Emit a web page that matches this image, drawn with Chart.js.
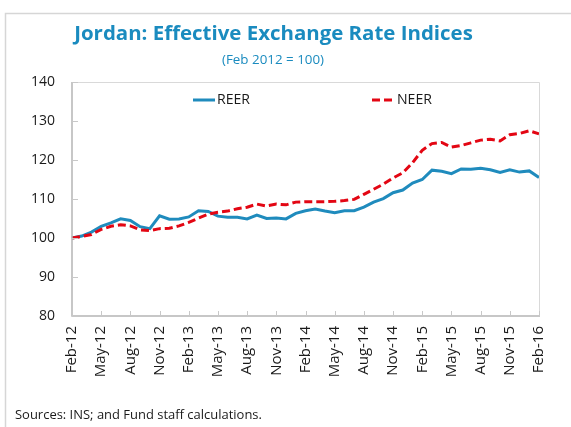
<!DOCTYPE html>
<html>
<head>
<meta charset="utf-8">
<script src="https://cdn.jsdelivr.net/npm/chart.js@4.4.1/dist/chart.umd.min.js"></script>
<style>
  html,body{margin:0;padding:0;background:#fff;}
  #wrap{position:absolute;left:0;top:0;width:571px;height:427px;}
</style>
</head>
<body>
<div id="wrap"><canvas id="c" width="571" height="427"></canvas></div>
<script>
const months = [
  "Feb-12","Mar-12","Apr-12","May-12","Jun-12","Jul-12","Aug-12","Sep-12","Oct-12","Nov-12","Dec-12","Jan-13",
  "Feb-13","Mar-13","Apr-13","May-13","Jun-13","Jul-13","Aug-13","Sep-13","Oct-13","Nov-13","Dec-13","Jan-14",
  "Feb-14","Mar-14","Apr-14","May-14","Jun-14","Jul-14","Aug-14","Sep-14","Oct-14","Nov-14","Dec-14","Jan-15",
  "Feb-15","Mar-15","Apr-15","May-15","Jun-15","Jul-15","Aug-15","Sep-15","Oct-15","Nov-15","Dec-15","Jan-16",
  "Feb-16"
];
const reer = [
  100.0,100.5,101.5,103.0,103.9,104.9,104.5,102.9,102.4,105.7,104.8,104.9,
  105.4,107.0,106.8,105.6,105.3,105.3,104.9,105.9,105.0,105.1,104.9,106.3,
  107.0,107.4,106.9,106.5,107.0,107.0,107.9,109.2,110.1,111.6,112.3,114.1,
  115.0,117.4,117.1,116.5,117.7,117.6,117.9,117.5,116.8,117.5,116.9,117.2,
  115.5
];
const neer = [
  100.0,100.4,100.9,102.2,103.0,103.4,103.1,102.1,101.9,102.4,102.5,103.1,
  104.0,105.1,106.1,106.6,106.9,107.5,107.9,108.7,108.2,108.7,108.5,109.2,
  109.3,109.3,109.3,109.4,109.6,109.9,111.2,112.5,113.8,115.4,116.7,119.3,
  122.5,124.2,124.5,123.3,123.7,124.4,125.1,125.3,124.9,126.5,126.8,127.5,
  126.7
];
const seriesNames = ["REER","NEER"];
const yMin = 80, yMax = 140, yStep = 10;
const titleText = "Jordan: Effective Exchange Rate Indices";
const subtitleText = "(Feb 2012 = 100)";
const sourceText = "Sources: INS; and Fund staff calculations.";

const FONT = "'Open Sans', 'Noto Sans', sans-serif";
const BLUE = "#1f8bbd";
const RED = "#e30613";
const TEAL = "#1a8bbf";

function fitText(ctx, text, weight, targetW, base){
  ctx.font = weight + " " + base + "px " + FONT;
  const w = ctx.measureText(text).width;
  const size = base * targetW / w;
  ctx.font = weight + " " + size.toFixed(2) + "px " + FONT;
  return size;
}

const overlay = {
  id: "overlay",
  beforeDraw(chart){
    const ctx = chart.ctx;
    ctx.save();
    ctx.fillStyle = "#fff";
    ctx.fillRect(0,0,chart.width,chart.height);
    ctx.restore();
  },
  afterDraw(chart){
    const ctx = chart.ctx;
    const a = chart.chartArea;
    const xs = chart.scales.x, ys = chart.scales.y;
    ctx.save();
    // outer frame
    ctx.strokeStyle = "#d6d6d6";
    ctx.lineWidth = 1.5;
    ctx.beginPath();
    ctx.moveTo(5.5, 427); ctx.lineTo(5.5, 13.5); ctx.lineTo(571, 13.5);
    ctx.stroke();
    // plot box
    ctx.lineWidth = 1;
    ctx.strokeStyle = "#d9d9d9";
    ctx.beginPath();
    ctx.moveTo(a.left, a.top + 0.5); ctx.lineTo(a.right + 0.5, a.top + 0.5); ctx.lineTo(a.right + 0.5, a.bottom);
    ctx.stroke();
    ctx.strokeStyle = "#b5b5b5";
    ctx.lineWidth = 1.5;
    ctx.beginPath();
    ctx.moveTo(a.left, a.top); ctx.lineTo(a.left, a.bottom); ctx.lineTo(a.right + 1, a.bottom);
    ctx.stroke();
    // inner ticks
    ctx.lineWidth = 1;
    ctx.strokeStyle = "#c8c8c8";
    ctx.beginPath();
    for (let v = yMin; v <= yMax; v += yStep){
      const py = Math.round(ys.getPixelForValue(v)) + 0.5;
      ctx.moveTo(a.left, py); ctx.lineTo(a.left + 6, py);
    }
    for (let i = 0; i < months.length; i += 3){
      const px = Math.round(xs.getPixelForValue(i)) + 0.5;
      ctx.moveTo(px, a.bottom); ctx.lineTo(px, a.bottom - 5);
    }
    ctx.stroke();
    // title + subtitle
    ctx.fillStyle = TEAL;
    ctx.textAlign = "center";
    ctx.textBaseline = "middle";
    fitText(ctx, titleText, "bold", 399, 22);
    ctx.fillText(titleText, 273.5, 34);
    fitText(ctx, subtitleText, "normal", 102, 13);
    ctx.fillText(subtitleText, 273, 60);
    // legend
    const ds = chart.data.datasets;
    const legendItems = [
      {x0:193, x1:215, tx:217, tw:33},
      {x0:372, x1:395, tx:397, tw:35}
    ];
    legendItems.forEach((it, k) => {
      const d = ds[k];
      ctx.strokeStyle = d.borderColor;
      ctx.lineWidth = d.borderWidth;
      ctx.setLineDash(d.borderDash || []);
      ctx.beginPath();
      ctx.moveTo(it.x0, 100); ctx.lineTo(it.x1, 100);
      ctx.stroke();
      ctx.setLineDash([]);
      ctx.fillStyle = "#1a1a1a";
      ctx.textAlign = "left";
      fitText(ctx, d.label, "normal", it.tw, 14);
      ctx.fillText(d.label, it.tx, 100);
    });
    // source
    ctx.fillStyle = "#1a1a1a";
    ctx.textAlign = "left";
    fitText(ctx, sourceText, "normal", 247, 13);
    ctx.fillText(sourceText, 15, 415);
    ctx.restore();
  }
};

new Chart(document.getElementById("c"), {
  type: "line",
  data: {
    labels: months,
    datasets: [
      { label: seriesNames[0], data: reer, borderColor: BLUE, backgroundColor: BLUE,
        borderWidth: 3, pointRadius: 0, tension: 0, fill: false, order: 1 },
      { label: seriesNames[1], data: neer, borderColor: RED, backgroundColor: RED,
        borderWidth: 3, borderDash: [8,4], pointRadius: 0, tension: 0, fill: false, order: 0 }
    ]
  },
  options: {
    responsive: false,
    animation: false,
    devicePixelRatio: 1,
    layout: { padding: { left: 0, right: 32, top: 82, bottom: 31 } },
    plugins: { legend: { display: false }, title: { display: false }, tooltip: { enabled: false } },
    scales: {
      x: {
        offset: false,
        grid: { display: false, drawTicks: false },
        border: { display: false },
        ticks: {
          autoSkip: false, maxRotation: 90, minRotation: 90, padding: 10,
          color: "#1a1a1a", font: { family: FONT, size: 15 },
          callback: function(v, i){ return i % 3 === 0 ? months[i] : ""; }
        },
        afterFit: function(s){ s.height = 80; }
      },
      y: {
        min: yMin, max: yMax,
        grid: { display: false, drawTicks: false },
        border: { display: false },
        ticks: { stepSize: yStep, padding: 17, color: "#1a1a1a", font: { family: FONT, size: 14 } },
        afterFit: function(s){ s.width = 72; }
      }
    }
  },
  plugins: [overlay]
});
</script>
</body>
</html>
